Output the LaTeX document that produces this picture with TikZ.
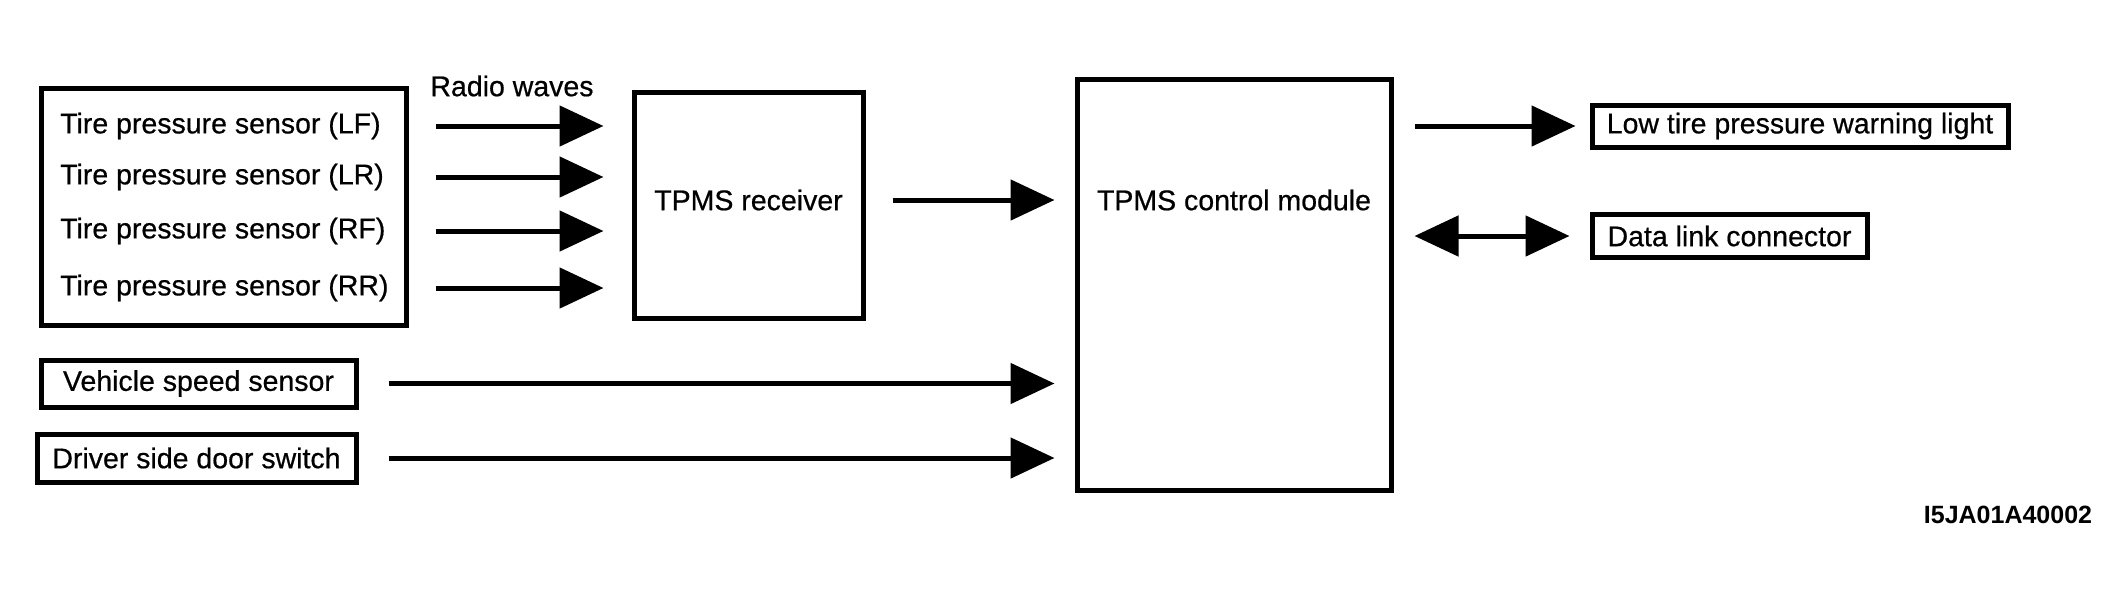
\documentclass[tikz,border=0pt]{standalone}
\usepackage{fontspec}
\setmainfont{Liberation Sans}
\newfontfamily\heavyfont{Liberation Sans}[FakeBold=0.6]
\usetikzlibrary{arrows.meta}
\begin{document}
\begin{tikzpicture}[x=1pt,y=-1pt,
  box/.style={draw,line width=5pt,inner sep=0pt,font=\heavyfont\fontsize{28.5}{34}\selectfont},
  txt/.style={inner sep=0pt,font=\heavyfont\fontsize{28.5}{34}\selectfont},
  arr/.style={line width=5pt,-{Triangle[length=44pt,width=40pt]}},
  dbl/.style={line width=5pt,{Triangle[length=44pt,width=40pt]}-{Triangle[length=44pt,width=40pt]}}]
\useasboundingbox (0,0) rectangle (2124,598);
% sensor group
\node[box,minimum width=365pt,minimum height=237pt] (sensors) at (223.5,206.5) {};
\node[txt,anchor=west] (lf) at (60,126) {Tire pressure sensor (LF)};
\node[txt,anchor=west] (lr) at (60,177) {Tire pressure sensor (LR)};
\node[txt,anchor=west] (rf) at (60,231) {Tire pressure sensor (RF)};
\node[txt,anchor=west] (rr) at (60,288) {Tire pressure sensor (RR)};
\node[txt] (radio) at (512,86) {Radio waves};
% receiver
\node[box,minimum width=229pt,minimum height=226pt] (receiver) at (748.5,205) {};
\node[txt] (rtext) at (748.5,200) {TPMS receiver};
% control module
\node[box,minimum width=314pt,minimum height=411pt] (control) at (1234,284.5) {};
\node[txt] (ctext) at (1234,200) {TPMS control module};
% inputs
\node[box,minimum width=315pt,minimum height=47pt] (vss) at (198.5,383.5) {Vehicle speed sensor};
\node[box,minimum width=319pt,minimum height=48pt] (door) at (196.5,458) {Driver side door switch};
% outputs
\node[box,minimum width=416pt,minimum height=42pt] (low) at (1800,126) {Low tire pressure warning light};
\node[box,minimum width=275pt,minimum height=43pt] (dlc) at (1729.5,236) {Data link connector};
% code
\node[inner sep=0pt,font=\fontsize{25}{30}\selectfont\bfseries] (code) at (2008,515) {I5JA01A40002};
% connectors
\foreach \s in {lf,lr,rf,rr}
  \draw[arr,shorten <=27pt,shorten >=28pt] (\s.east -| sensors.east) -- (\s.east -| receiver.west);
\draw[arr,shorten <=27pt,shorten >=20pt] (rtext.east -| receiver.east) -- (rtext.east -| control.west);
\draw[arr,shorten <=30pt,shorten >=20pt] (vss.east) -- (vss.east -| control.west);
\draw[arr,shorten <=30pt,shorten >=20pt] (door.east) -- (door.east -| control.west);
\draw[arr,shorten <=21pt,shorten >=14pt] (low.west -| control.east) -- (low.west);
\draw[dbl,shorten <=21pt,shorten >=20pt] (dlc.west -| control.east) -- (dlc.west);
\end{tikzpicture}
\end{document}
